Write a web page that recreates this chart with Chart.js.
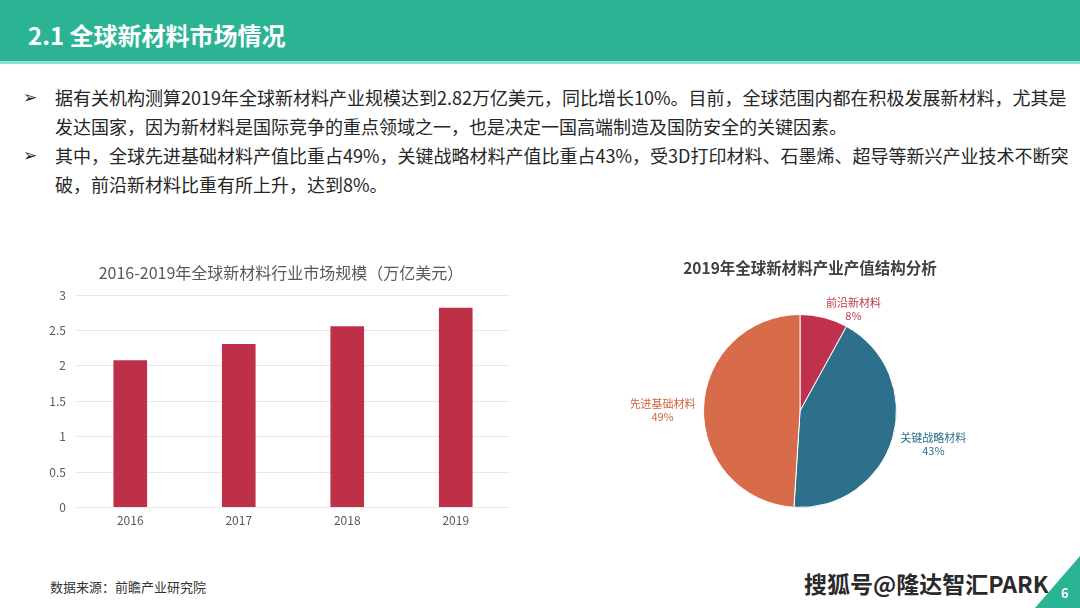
<!DOCTYPE html>
<html>
<head>
<meta charset="utf-8">
<script src="https://cdn.jsdelivr.net/npm/chart.js@4/dist/chart.umd.min.js"></script>
<style>
  html, body { margin:0; padding:0; }
  body { width:1080px; height:608px; position:relative; overflow:hidden; background:#ffffff;
         font-family:"Noto Sans CJK SC","Noto Sans",sans-serif; }
  #header { position:absolute; left:0; top:0; width:1080px; height:61px; background:#2ab494; }
  #header-line { position:absolute; left:0; top:61px; width:1080px; height:3px; background:#8fe3cc; }
  #header-title { position:absolute; left:28px; top:17px; color:#ffffff; font-size:24px; font-weight:bold; line-height:36px; white-space:nowrap; }
  .line { position:absolute; left:55px; font-size:18px; color:#262626; white-space:nowrap; line-height:28px; }
  .bullet { position:absolute; left:23px; font-size:17px; color:#262626; font-family:"DejaVu Sans",sans-serif; line-height:28px; }
  #barBox { position:absolute; left:40px; top:255px; width:472px; height:279px; }
  #barTitle { position:absolute; left:81px; top:260px; width:400px; text-align:center; font-size:16px; color:#595959; line-height:24px; white-space:nowrap; }
  #pieBox { position:absolute; left:631px; top:250px; width:360px; height:280px; }
  #pieTitle { position:absolute; left:660px; top:256px; width:300px; text-align:center; font-size:15.5px; font-weight:bold; color:#404040; line-height:22px; white-space:nowrap; }
  #source { position:absolute; left:50px; top:578px; font-size:13px; color:#333; white-space:nowrap; line-height:18px; }
  #mark { position:absolute; left:804px; top:568px; font-size:23px; font-weight:bold; color:#2a2a2a; white-space:nowrap; line-height:30px;
          text-shadow: -1px -1px 0 #fff, 1px -1px 0 #fff, -1px 1px 0 #fff, 1px 1px 0 #fff; }
  #tri { position:absolute; left:0; top:0; }
  #pagenum { position:absolute; left:1061px; top:584px; color:#fff; font-size:13px; font-weight:bold; line-height:18px; }
</style>
</head>
<body>
<div id="header"></div>
<div id="header-line"></div>
<div id="header-title">2.1 全球新材料市场情况</div>

<div class="bullet" style="top:83px;">➢</div>
<div class="line" style="top:83px;">据有关机构测算2019年全球新材料产业规模达到2.82万亿美元，同比增长10%。目前，全球范围内都在积极发展新材料，尤其是</div>
<div class="line" style="top:112px;">发达国家，因为新材料是国际竞争的重点领域之一，也是决定一国高端制造及国防安全的关键因素。</div>
<div class="bullet" style="top:141px;">➢</div>
<div class="line" style="top:141px;">其中，全球先进基础材料产值比重占49%，关键战略材料产值比重占43%，受3D打印材料、石墨烯、超导等新兴产业技术不断突</div>
<div class="line" style="top:170px;">破，前沿新材料比重有所上升，达到8%。</div>

<div id="barBox"><canvas id="bar"></canvas></div>
<div id="barTitle"></div>
<div id="pieBox"><canvas id="pie"></canvas></div>
<div id="pieTitle"></div>

<div id="source">数据来源：前瞻产业研究院</div>
<div id="mark">搜狐号@隆达智汇PARK</div>
<svg id="tri" width="1080" height="608"><polygon points="1080,556 1080,608 1035,608" fill="#2ab494"/></svg>
<div id="pagenum">6</div>

<script>
// ---- data ----
const barTitle = "2016-2019年全球新材料行业市场规模（万亿美元）";
const years = ["2016", "2017", "2018", "2019"];
const marketSize = [2.08, 2.31, 2.56, 2.82];

const pieTitle = "2019年全球新材料产业产值结构分析";
const segments = ["前沿新材料", "关键战略材料", "先进基础材料"];
const shares = [8, 43, 49];

const FONT = '"Noto Sans CJK SC","Noto Sans",sans-serif';

document.getElementById('barTitle').textContent = barTitle;
document.getElementById('pieTitle').textContent = pieTitle;

new Chart(document.getElementById('bar'), {
  type: 'bar',
  data: {
    labels: years,
    datasets: [{ data: marketSize, backgroundColor: '#be3048', categoryPercentage: 1.0, barPercentage: 0.31 }]
  },
  options: {
    responsive: true, maintainAspectRatio: false, animation: false,
    layout: { padding: { right: 2, top: 40, bottom: 0, left: 0 } },
    plugins: {
      legend: { display: false },
      tooltip: { enabled: false },
      title: { display: false }
    },
    scales: {
      x: {
        grid: { display: false, drawTicks: false }, border: { display: false },
        ticks: { color: '#595959', font: { family: FONT, size: 12 }, padding: 6 }
      },
      y: {
        min: 0, max: 3,
        grid: { color: '#e8e8e8', drawTicks: false }, border: { display: false },
        ticks: { stepSize: 0.5, color: '#595959', font: { family: FONT, size: 12 }, padding: 10,
                 callback: (v) => String(v) },
        afterFit: (s) => { s.width = 36; }
      }
    }
  }
});

const pieColors = ['#c0324b', '#2c708c', '#d86b4a'];
const labelColors = ['#c0384f', '#2c6f8b', '#d0633f'];

const pieLabels = {
  id: 'pieLabels',
  afterDatasetsDraw(chart) {
    const ctx = chart.ctx;
    const meta = chart.getDatasetMeta(0);
    const total = shares.reduce((a, b) => a + b, 0);
    ctx.save();
    ctx.font = '11px ' + FONT;
    ctx.textBaseline = 'middle';
    ctx.textAlign = 'center';
    meta.data.forEach((arc, i) => {
      const mid = (arc.startAngle + arc.endAngle) / 2;
      const r = arc.outerRadius + 8;
      const px = arc.x + Math.cos(mid) * r;
      const py = arc.y + Math.sin(mid) * (r + 4) + 3;
      const l1 = segments[i];
      const l2 = Math.round(shares[i] / total * 100) + '%';
      const w = Math.max(ctx.measureText(l1).width, ctx.measureText(l2).width);
      const cx = Math.cos(mid) >= 0 ? px + w / 2 : px - w / 2;
      ctx.fillStyle = labelColors[i];
      ctx.fillText(l1, cx, py - 6.5);
      ctx.fillText(l2, cx, py + 6.5);
    });
    ctx.restore();
  }
};

new Chart(document.getElementById('pie'), {
  type: 'pie',
  data: {
    labels: segments,
    datasets: [{ data: shares, backgroundColor: pieColors, borderColor: '#ffffff', borderWidth: 1 }]
  },
  options: {
    responsive: true, maintainAspectRatio: false, animation: false,
    layout: { padding: { left: 0, right: 22, top: 64, bottom: 22 } },
    plugins: {
      legend: { display: false },
      tooltip: { enabled: false },
      title: { display: false }
    }
  },
  plugins: [pieLabels]
});
</script>
</body>
</html>
